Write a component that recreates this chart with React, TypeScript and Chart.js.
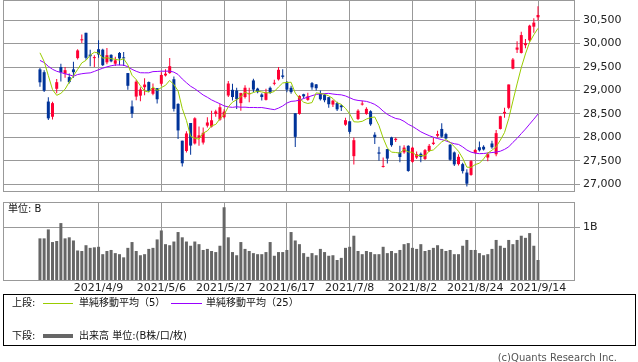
import React, { useEffect, useRef } from 'react';
import { Chart, registerables } from 'chart.js';

Chart.register(...registerables);

// ---- data (Nikkei 225 daily, 2021/3/22 - 2021/9/14) ----
const tickIndexes = [14, 29, 44, 59, 74, 89, 104, 119];
const tickLabels = ['2021/4/9', '2021/5/6', '2021/5/27', '2021/6/17', '2021/7/8', '2021/8/2', '2021/8/24', '2021/9/14'];
const priceTicks = [27000, 27500, 28000, 28500, 29000, 29500, 30000, 30500];
const volumeTicks = [1];

// closes of the 24 sessions before the first candle (used for moving averages)
const priorCloses = [
  30084, 30468, 30292, 30236, 30018, 30156, 29672, 30168, 28966, 29664, 29408, 29559,
  28930, 28864, 28743, 29028, 29037, 29212, 29718, 29767, 29921, 29914, 30217, 29792,
];

const opens = [
  29450, 29390, 28764, 28440, 29036, 29500, 29357, 29286, 29450, 29690,
  30070, 30230, 29764, 29690, 29880, 29870, 29600, 29760, 29571, 29800,
  29700, 29371, 28660, 28870, 28890, 29070, 29180, 28930, 29050, 29143,
  29320, 29371, 29240, 28714, 27930, 27710, 28307, 27870, 27990, 27890,
  28250, 28230, 28500, 28379, 28430, 28893, 29014, 29000, 28730, 28860,
  28920, 29214, 29040, 28914, 28800, 29057, 29143, 29236, 29320, 29180,
  29057, 28514, 28500, 28920, 28800, 29157, 29130, 28943, 28907, 28857,
  28700, 28730, 28680, 28271, 28343, 27600, 28393, 28700, 28500, 28557,
  28057, 27680, 27370, 27750, 28000, 27943, 27680, 27680, 27820, 27480,
  27570, 27650, 27540, 27710, 27860, 28035, 28180, 28070, 27843, 27680,
  27430, 27430, 27250, 27200, 27670, 27790, 27800, 27570, 27870, 27640,
  28180, 28510, 28630, 29465, 29870, 29800, 29965, 30070, 30360, 30560,
];
const highs = [
  29480, 29430, 28857, 28760, 29243, 29570, 29500, 29360, 29610, 29880,
  30193, 30230, 29871, 29750, 30070, 29890, 29907, 29770, 29720, 29820,
  29820, 29371, 28786, 29230, 29071, 29260, 29190, 29150, 29050, 29390,
  29450, 29693, 29300, 28730, 27930, 28130, 28307, 28430, 28230, 28210,
  28430, 28570, 28590, 28714, 28600, 29200, 29143, 29057, 28950, 29110,
  29057, 29250, 29060, 28943, 29036, 29086, 29230, 29500, 29450, 29200,
  29100, 28514, 28900, 28930, 28950, 29180, 29140, 29000, 28930, 28860,
  28800, 28760, 28700, 28420, 28343, 28000, 28600, 28780, 28640, 28580,
  28107, 27800, 27570, 27750, 28015, 28000, 27820, 27830, 27830, 27800,
  27700, 27680, 27750, 27860, 27990, 28140, 28300, 28100, 27860, 27700,
  27640, 27460, 27320, 27520, 27750, 27910, 27830, 27680, 27930, 28160,
  28460, 28630, 29130, 29690, 30050, 30250, 30100, 30400, 30540, 30795,
];
const lows = [
  29080, 28970, 28370, 28380, 28943, 29193, 29270, 29150, 29270, 29660,
  30014, 29657, 29514, 29500, 29700, 29520, 29560, 29600, 29520, 29536,
  29520, 29014, 28414, 28790, 28770, 28900, 28960, 28900, 28720, 29100,
  29300, 29357, 28550, 27964, 27379, 27680, 27629, 27850, 27820, 27850,
  28210, 28210, 28440, 28357, 28400, 28860, 28786, 28607, 28570, 28830,
  28750, 28964, 28940, 28786, 28786, 28929, 29110, 29214, 29250, 28960,
  28929, 27795, 28480, 28830, 28780, 29014, 29000, 28786, 28750, 28630,
  28650, 28560, 28560, 28250, 28080, 27420, 28370, 28680, 28480, 28250,
  27857, 27500, 27357, 27443, 27800, 27900, 27470, 27650, 27270, 27460,
  27540, 27470, 27520, 27690, 27840, 28000, 27990, 27960, 27500, 27390,
  27400, 27230, 26954, 27180, 27650, 27700, 27720, 27490, 27760, 27600,
  28170, 28420, 28600, 29450, 29800, 29786, 29900, 30040, 30230, 30490,
];
const closes = [
  29174, 28996, 28406, 28730, 29177, 29385, 29433, 29179, 29389, 29854,
  30089, 29697, 29731, 29709, 29768, 29539, 29752, 29621, 29643, 29683,
  29685, 29100, 28509, 29188, 29021, 29126, 28992, 29054, 28813, 29331,
  29358, 29518, 28609, 28148, 27448, 28084, 27825, 28407, 28044, 28098,
  28318, 28365, 28554, 28642, 28549, 29149, 28860, 28814, 28946, 29058,
  28942, 29019, 28964, 28861, 28959, 28949, 29162, 29441, 29291, 29018,
  28964, 28011, 28884, 28875, 28875, 29066, 29048, 28813, 28792, 28707,
  28783, 28598, 28643, 28367, 28118, 27940, 28569, 28718, 28608, 28279,
  28003, 27653, 27388, 27548, 27833, 27970, 27582, 27782, 27284, 27781,
  27641, 27584, 27728, 27820, 27888, 28071, 28015, 27977, 27523, 27424,
  27586, 27281, 27013, 27494, 27732, 27725, 27742, 27641, 27789, 28090,
  28451, 28544, 29128, 29660, 29916, 30181, 30008, 30382, 30447, 30610,
];
// volume, billions of shares
const volumes = [
  0.79, 0.79, 0.96, 0.72, 0.74, 1.08, 0.79, 0.81, 0.75, 0.56,
  0.55, 0.66, 0.61, 0.62, 0.63, 0.49, 0.55, 0.57, 0.51, 0.49,
  0.43, 0.61, 0.72, 0.55, 0.47, 0.49, 0.59, 0.61, 0.77, 0.94,
  0.68, 0.66, 0.73, 0.91, 0.81, 0.73, 0.65, 0.73, 0.68, 0.57,
  0.59, 0.55, 0.53, 0.65, 1.38, 0.81, 0.53, 0.47, 0.72, 0.59,
  0.55, 0.51, 0.49, 0.49, 0.53, 0.72, 0.46, 0.53, 0.53, 0.57,
  0.91, 0.75, 0.68, 0.51, 0.44, 0.51, 0.47, 0.59, 0.53, 0.46,
  0.47, 0.38, 0.42, 0.61, 0.63, 0.84, 0.55, 0.49, 0.55, 0.53,
  0.49, 0.49, 0.63, 0.51, 0.55, 0.51, 0.57, 0.68, 0.70, 0.61,
  0.59, 0.68, 0.55, 0.57, 0.61, 0.66, 0.59, 0.55, 0.57, 0.49,
  0.49, 0.65, 0.76, 0.57, 0.57, 0.51, 0.47, 0.49, 0.59, 0.76,
  0.65, 0.61, 0.76, 0.68, 0.76, 0.84, 0.80, 0.89, 0.65, 0.38,
];

const UP = '#ff0033';
const DOWN = '#003399';
const MA5_COLOR = '#99cc00';
const MA25_COLOR = '#9900ff';
const GRID = '#999999';

const X_MIN = -8.83;
const X_MAX = 127.6;
const P_MIN = 26857;
const P_MAX = 30929;
const V_MAX = 1.48;

function sma(period: number) {
  const all = priorCloses.concat(closes);
  const off = priorCloses.length;
  return closes.map((_, i) => {
    let s = 0;
    for (let k = 0; k < period; k++) s += all[off + i - k];
    return { x: i, y: s / period };
  });
}

const framePlugin = {
  id: 'frame',
  afterDraw(chart: any) {
    const { ctx, chartArea } = chart;
    ctx.save();
    ctx.strokeStyle = GRID;
    ctx.lineWidth = 1;
    ctx.strokeRect(
      Math.round(chartArea.left) + 0.5,
      Math.round(chartArea.top) + 0.5,
      Math.round(chartArea.right - chartArea.left),
      Math.round(chartArea.bottom - chartArea.top)
    );
    ctx.restore();
  },
};

const noPad = (s: any) => {
  s.paddingTop = 0;
  s.paddingBottom = 0;
  s.paddingLeft = 0;
  s.paddingRight = 0;
};
const setTicks = (axis: any) => {
  axis.ticks = tickIndexes.map((v) => ({ value: v }));
};
const labelFor = (v: number) => {
  const k = tickIndexes.indexOf(v);
  return k >= 0 ? tickLabels[k] : '';
};

function PriceChart() {
  const ref = useRef<HTMLCanvasElement>(null);
  useEffect(() => {
    const idx = closes.map((_, i) => i);
    const colors = idx.map((i) => (closes[i] >= opens[i] ? UP : DOWN));
    const chart = new Chart(ref.current!, {
      type: 'line',
      data: {
        datasets: [
          {
            type: 'line',
            label: 'ma5',
            data: sma(5),
            borderColor: MA5_COLOR,
            borderWidth: 1,
            pointRadius: 0,
            tension: 0,
            order: 0,
          },
          {
            type: 'line',
            label: 'ma25',
            data: sma(25),
            borderColor: MA25_COLOR,
            borderWidth: 1,
            pointRadius: 0,
            tension: 0,
            order: 0,
          },
          {
            type: 'bar',
            label: 'body',
            data: idx.map((i) => ({ x: i, y: [opens[i], closes[i]] })),
            backgroundColor: colors,
            borderWidth: 0,
            barThickness: 3,
            minBarLength: 1,
            grouped: false,
            inflateAmount: 0,
            order: 1,
          } as any,
          {
            type: 'bar',
            label: 'wick',
            data: idx.map((i) => ({ x: i, y: [lows[i], highs[i]] })),
            backgroundColor: colors,
            borderWidth: 0,
            barThickness: 1,
            grouped: false,
            inflateAmount: 0,
            order: 2,
          } as any,
        ],
      },
      options: {
        animation: false,
        responsive: false,
        maintainAspectRatio: false,
        events: [],
        layout: { padding: { left: 3, top: 0, right: 0, bottom: 1 } },
        plugins: { legend: { display: false }, tooltip: { enabled: false } },
        scales: {
          x: {
            type: 'linear',
            min: X_MIN,
            max: X_MAX,
            offset: false,
            afterBuildTicks: setTicks,
            afterFit: (s: any) => {
              s.height = 0;
              noPad(s);
            },
            grid: { color: GRID, drawTicks: false, offset: false },
            border: { display: false },
            ticks: { display: false },
          },
          y: {
            type: 'linear',
            position: 'right',
            min: P_MIN,
            max: P_MAX,
            afterBuildTicks: (axis: any) => {
              axis.ticks = priceTicks.map((v) => ({ value: v }));
            },
            afterFit: (s: any) => {
              s.width = 64;
              noPad(s);
            },
            grid: { color: GRID, tickLength: 6 },
            border: { display: false },
            ticks: {
              padding: 3,
              color: '#222',
              font: { family: 'DejaVu Sans', size: 11 },
              callback: (v: any) => Number(v).toLocaleString('en-US'),
            },
          },
        },
      },
      plugins: [framePlugin],
    } as any);
    return () => chart.destroy();
  }, []);
  return <canvas ref={ref} width={638} height={192} style={{ position: 'absolute', left: 0, top: 0, width: 638, height: 192 }} />;
}

function VolumeChart() {
  const ref = useRef<HTMLCanvasElement>(null);
  useEffect(() => {
    const chart = new Chart(ref.current!, {
      type: 'bar',
      data: {
        datasets: [
          {
            label: 'volume',
            data: volumes.map((v, i) => ({ x: i, y: v })),
            backgroundColor: '#666666',
            borderWidth: 0,
            barThickness: 3,
            inflateAmount: 0,
          } as any,
        ],
      },
      options: {
        animation: false,
        responsive: false,
        maintainAspectRatio: false,
        events: [],
        layout: { padding: { left: 3, top: 2, right: 0, bottom: 0 } },
        plugins: { legend: { display: false }, tooltip: { enabled: false } },
        scales: {
          x: {
            type: 'linear',
            min: X_MIN,
            max: X_MAX,
            offset: false,
            afterBuildTicks: setTicks,
            afterFit: (s: any) => {
              s.height = 20;
              noPad(s);
            },
            grid: { color: GRID, drawTicks: false, offset: false },
            border: { display: false },
            ticks: {
              autoSkip: false,
              maxRotation: 0,
              minRotation: 0,
              padding: 2,
              color: '#222',
              font: { family: 'DejaVu Sans', size: 11 },
              callback: (v: any) => labelFor(Number(v)),
            },
          },
          y: {
            type: 'linear',
            position: 'right',
            min: 0,
            max: V_MAX,
            afterBuildTicks: (axis: any) => {
              axis.ticks = volumeTicks.map((v) => ({ value: v }));
            },
            afterFit: (s: any) => {
              s.width = 64;
              noPad(s);
            },
            grid: { color: GRID, tickLength: 6 },
            border: { display: false },
            ticks: {
              padding: 3,
              color: '#222',
              font: { family: 'DejaVu Sans', size: 11 },
              callback: (v: any) => `${v}B`,
            },
          },
        },
      },
      plugins: [framePlugin],
    } as any);
    return () => chart.destroy();
  }, []);
  return <canvas ref={ref} width={638} height={100} style={{ position: 'absolute', left: 0, top: 200, width: 638, height: 100 }} />;
}

const jp = '"DejaVu Sans", "Noto Sans CJK JP", sans-serif';

export default function App() {
  const txt: React.CSSProperties = {
    position: 'absolute',
    fontFamily: jp,
    fontSize: 10,
    lineHeight: '12px',
    color: '#111',
    whiteSpace: 'nowrap',
  };
  return (
    <div style={{ position: 'absolute', left: 0, top: 0, width: 638, height: 362, background: '#fff', overflow: 'hidden' }}>
      <PriceChart />
      <VolumeChart />
      <div style={{ ...txt, left: 8, top: 203 }}>単位: B</div>
      <div
        style={{
          position: 'absolute',
          left: 3,
          top: 294,
          width: 633,
          height: 52,
          boxSizing: 'border-box',
          border: '1px solid #000',
        }}
      />
      <div style={{ ...txt, left: 12, top: 297 }}>上段:</div>
      <div style={{ position: 'absolute', left: 43, top: 303, width: 30, height: 1, background: MA5_COLOR }} />
      <div style={{ ...txt, left: 79, top: 297 }}>単純移動平均（5）</div>
      <div style={{ position: 'absolute', left: 171, top: 303, width: 31, height: 1, background: MA25_COLOR }} />
      <div style={{ ...txt, left: 206, top: 297 }}>単純移動平均（25）</div>
      <div style={{ ...txt, left: 12, top: 330 }}>下段:</div>
      <div style={{ position: 'absolute', left: 43, top: 334, width: 30, height: 4, background: '#666666' }} />
      <div style={{ ...txt, left: 79, top: 330 }}>出来高 単位:(B株/口/枚)</div>
      <div style={{ ...txt, right: 21, top: 352, color: '#555' }}>(c)Quants Research Inc.</div>
    </div>
  );
}
